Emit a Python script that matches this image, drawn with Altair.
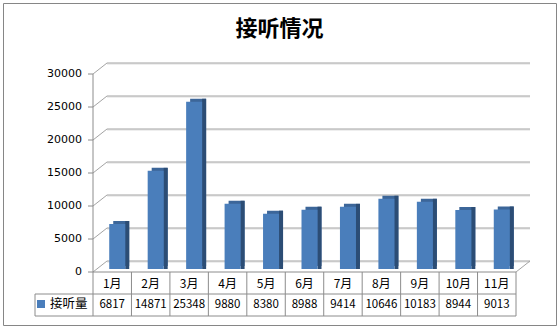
import altair as alt
import pandas as pd

# ---- data ----
months = ["1月", "2月", "3月", "4月", "5月", "6月", "7月", "8月", "9月", "10月", "11月"]
values = [6817, 14871, 25348, 9880, 8380, 8988, 9414, 10646, 10183, 8944, 9013]
ticks = [0, 5000, 10000, 15000, 20000, 25000, 30000]
series_name = "接听量"
title_text = "接听情况"

n = len(months)
bars_df = pd.DataFrame({"idx": list(range(n)), "month": months, "value": values})
ticks_df = pd.DataFrame({"v": ticks})
bounds_df = pd.DataFrame({"k": list(range(n + 1))})
legend_df = pd.DataFrame({"name": [series_name]})

# ---- styles ----
FRONT = "#4a7ebb"
TOP = "#3c6699"
SIDE = "#2c4d75"
GRID = "#a3a3a3"
GRID_LIGHT = "#dedede"
LINE = "#8c8c8c"
DX, DY = 14, -11  # 3D depth of the walls

xs = alt.Scale(domain=[0, n], range=[90, 513])
ys = alt.Scale(domain=[0, 30000], range=[269, 71])


def X(f):
    return alt.X(f, type="quantitative", scale=xs, axis=None)


def Y(f):
    return alt.Y(f, type="quantitative", scale=ys, axis=None)


tick_base = alt.Chart(ticks_df).transform_calculate(x0="0", x1=str(n))

grid_light = tick_base.mark_rule(color=GRID_LIGHT, xOffset=DX, x2Offset=DX, yOffset=DY + 1).encode(
    x=X("x0"), x2="x1", y=Y("v"))
grid = tick_base.mark_rule(color=GRID, xOffset=DX, x2Offset=DX, yOffset=DY).encode(
    x=X("x0"), x2="x1", y=Y("v"))
diag = tick_base.mark_rule(color=GRID, x2Offset=DX, y2Offset=DY).encode(
    x=X("x0"), x2="x0", y=Y("v"), y2="v")
floor_base = tick_base.transform_filter("datum.v == 0")
floor_right = floor_base.mark_rule(color=GRID, x2Offset=DX, y2Offset=DY).encode(
    x=X("x1"), x2="x1", y=Y("v"), y2="v")
floor_front = floor_base.mark_rule(color=LINE).encode(x=X("x0"), x2="x1", y=Y("v"))

axis_line = tick_base.transform_aggregate(lo="min(v)", hi="max(v)").transform_calculate(x0="0").mark_rule(
    color=LINE).encode(x=X("x0"), y=Y("lo"), y2="hi")
axis_ticks = tick_base.mark_rule(color=LINE, xOffset=-5).encode(x=X("x0"), x2="x0", y=Y("v"))
axis_labels = tick_base.mark_text(align="right", baseline="middle", xOffset=-11, font="DejaVu Sans",
                                  fontSize=11, color="#000000").encode(
    x=X("x0"), y=Y("v"), text=alt.Text("v:Q", format="d"))

bar_base = alt.Chart(bars_df).transform_calculate(c="datum.idx + 0.5", z="0")
bar_back = bar_base.mark_bar(color=TOP, xOffset=1, x2Offset=17, yOffset=-6, y2Offset=-6).encode(
    x=X("c"), x2="c", y=Y("value"), y2="z")
bar_side = bar_base.mark_bar(color=SIDE, xOffset=13, x2Offset=17, yOffset=-6, y2Offset=-3).encode(
    x=X("c"), x2="c", y=Y("value"), y2="z")
bar_front = bar_base.mark_bar(color=FRONT, xOffset=-3, x2Offset=13, yOffset=-3, y2Offset=-3).encode(
    x=X("c"), x2="c", y=Y("value"), y2="z")

# ---- data table ----
col_lines = alt.Chart(bounds_df).transform_calculate(z="0").mark_rule(color=LINE, y2Offset=44).encode(
    x=X("k"), y=Y("z"), y2="z")
row_mid = floor_base.mark_rule(color=LINE, xOffset=-58, yOffset=22, y2Offset=22).encode(
    x=X("x0"), x2="x1", y=Y("v"))
row_bot = floor_base.mark_rule(color=LINE, xOffset=-58, yOffset=44, y2Offset=44).encode(
    x=X("x0"), x2="x1", y=Y("v"))
leg_left = floor_base.mark_rule(color=LINE, xOffset=-58, x2Offset=-58, yOffset=22, y2Offset=44).encode(
    x=X("x0"), x2="x0", y=Y("v"), y2="v")

cat_text = bar_base.mark_text(baseline="middle", yOffset=12, font="Noto Sans CJK SC", fontSize=12,
                              color="#000000").encode(x=X("c"), y=Y("z"), text="month:N")
val_text = bar_base.mark_text(baseline="middle", yOffset=33, font="Noto Sans CJK SC", fontSize=11.5,
                              color="#000000").encode(x=X("c"), y=Y("z"), text=alt.Text("value:Q", format="d"))

leg_base = alt.Chart(legend_df).transform_calculate(x0="0", z="0")
leg_sq = leg_base.mark_square(color=FRONT, size=64, opacity=1, xOffset=-52, yOffset=32).encode(
    x=X("x0"), y=Y("z"))
leg_txt = leg_base.mark_text(align="left", baseline="middle", xOffset=-43, yOffset=32,
                             font="Noto Sans CJK SC", fontSize=12.5, color="#000000").encode(
    x=X("x0"), y=Y("z"), text="name:N")

chart = alt.layer(
    grid_light, grid, diag, floor_right,
    bar_back, bar_side, bar_front,
    floor_front, axis_line, axis_ticks, axis_labels,
    col_lines, row_mid, row_bot, leg_left,
    cat_text, val_text, leg_sq, leg_txt,
).properties(
    width=553,
    height=322,
    padding={"left": 3, "top": 3, "right": 3, "bottom": 3},
    autosize=alt.AutoSizeParams(type="none"),
    title=alt.Title(title_text, fontSize=22, font="Noto Sans CJK SC", fontWeight="bold",
                    color="#000000", anchor="middle", baseline="middle", offset=-48),
    background="white",
).configure_view(stroke="#868686", strokeWidth=1)

chart.save("out.html", embed_options={"renderer": "svg", "actions": False})
